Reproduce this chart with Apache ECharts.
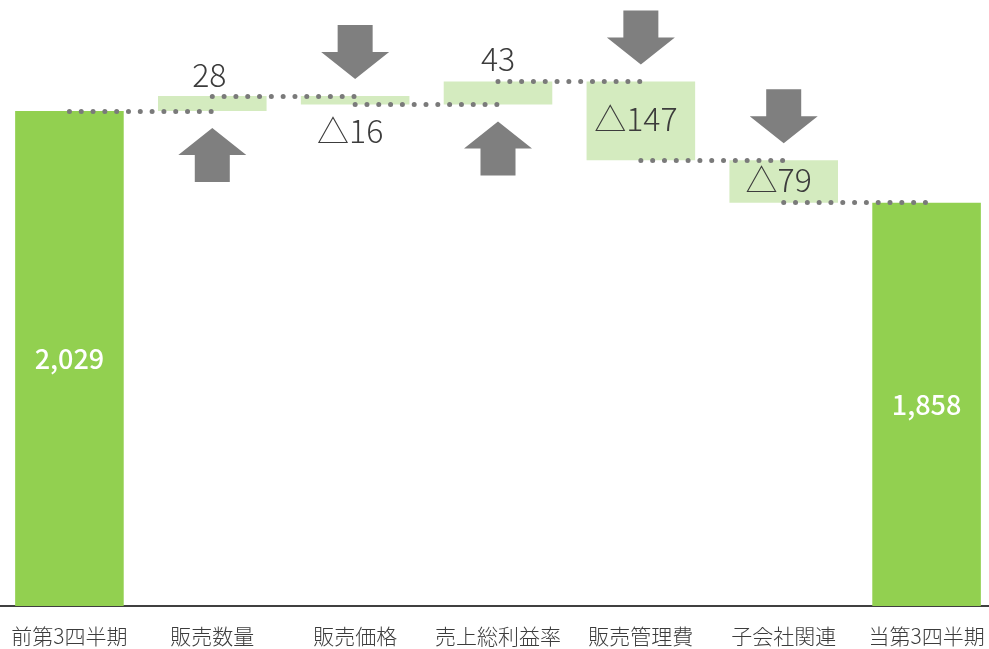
<!DOCTYPE html>
<html>
<head>
<meta charset="utf-8">
<script src="https://cdn.jsdelivr.net/npm/echarts@6/dist/echarts.min.js"></script>
<style>
  html, body { margin: 0; padding: 0; background: #fff; }
  #app { width: 989px; height: 649px; }
</style>
</head>
<body>
<div id="app"></div>
<script>
// 項目
const categories = ['前第3四半期', '販売数量', '販売価格', '売上総利益率', '販売管理費', '子会社関連', '当第3四半期'];
const startTotal = 2029;
const changes = [28, -16, 43, -147, -79];
const endTotal = 1858;

const FONT = "'Noto Sans CJK JP', 'Noto Sans', sans-serif";
const TEXT = '#3c3c3c';
const GRAY = '#7f7f7f';

// 累計
const levels = [startTotal];
changes.forEach(function (c) { levels.push(levels[levels.length - 1] + c); });

const fmtChange = function (c) { return c > 0 ? String(c) : '△' + Math.abs(c); };

// ラベル位置（見た目の調整）
const changeLabel = [
  { position: 'top', distance: 5, offset: [-3, 0] },
  { position: 'bottom', distance: 10, offset: [-5, 0] },
  { position: 'top', distance: 7 },
  { position: 'inside', offset: [-5, -2] },
  { position: 'inside', offset: [-5, -2] }
];

const upArrow = 'path://M34 0L68 27L51.5 27L51.5 54L16.5 54L16.5 27L0 27Z';
const downArrow = 'path://M16.5 0L51.5 0L51.5 27L68 27L34 54L0 27L16.5 27Z';

const baseData = [0].concat(changes.map(function (c, i) {
  return Math.min(levels[i], levels[i + 1]);
})).concat([0]);

const totalItem = function (v) {
  return {
    value: v,
    itemStyle: { color: '#92d050' },
    label: {
      show: true, position: 'inside', color: '#fff', fontSize: 27, fontWeight: 500,
      fontFamily: FONT, formatter: v.toLocaleString('en-US')
    }
  };
};

const valueData = [totalItem(startTotal)].concat(changes.map(function (c, i) {
  return {
    value: Math.abs(c),
    itemStyle: { color: '#d4ebbf' },
    label: Object.assign({
      show: true, color: TEXT, fontSize: 32, fontWeight: 300,
      fontFamily: FONT, formatter: fmtChange(c)
    }, changeLabel[i])
  };
})).concat([totalItem(endTotal)]);

const arrowData = changes.map(function (c, i) {
  return {
    value: [categories[i + 1], levels[i]],
    symbol: c > 0 ? upArrow : downArrow,
    symbolOffset: [0, c > 0 ? 44 : -44]
  };
});

const connectors = levels.map(function (v, i) {
  return [{ coord: [categories[i], v] }, { coord: [categories[i + 1], v] }];
});

const chart = echarts.init(document.getElementById('app'));
chart.setOption({
  animation: false,
  grid: { left: -2, right: -9, top: 0, bottom: 43, outerBoundsMode: 'none', containLabel: false },
  xAxis: {
    type: 'category',
    data: categories,
    axisLine: { lineStyle: { color: '#404040', width: 2 } },
    axisTick: { show: false },
    axisLabel: { interval: 0, hideOverlap: false, fontSize: 21, color: TEXT, margin: 20, fontFamily: FONT, fontWeight: 300 }
  },
  yAxis: {
    type: 'value',
    show: false,
    min: 1106,
    max: 2236,
    splitLine: { show: false }
  },
  series: [
    {
      type: 'bar',
      stack: 'wf',
      barWidth: '76%',
      silent: true,
      itemStyle: { color: 'transparent' },
      data: baseData
    },
    {
      type: 'bar',
      stack: 'wf',
      barWidth: '76%',
      silent: true,
      data: valueData
    },
    {
      type: 'scatter',
      z: 4,
      silent: true,
      symbolSize: [68, 54],
      itemStyle: { color: GRAY, opacity: 1 },
      data: arrowData,
      markLine: {
        silent: true,
        z: 5,
        symbol: ['none', 'none'],
        label: { show: false },
        lineStyle: { color: '#7a7a7a', width: 5, type: [0.01, 11.8], cap: 'round', opacity: 1 },
        emphasis: { disabled: true },
        data: connectors
      }
    }
  ]
});
</script>
</body>
</html>
